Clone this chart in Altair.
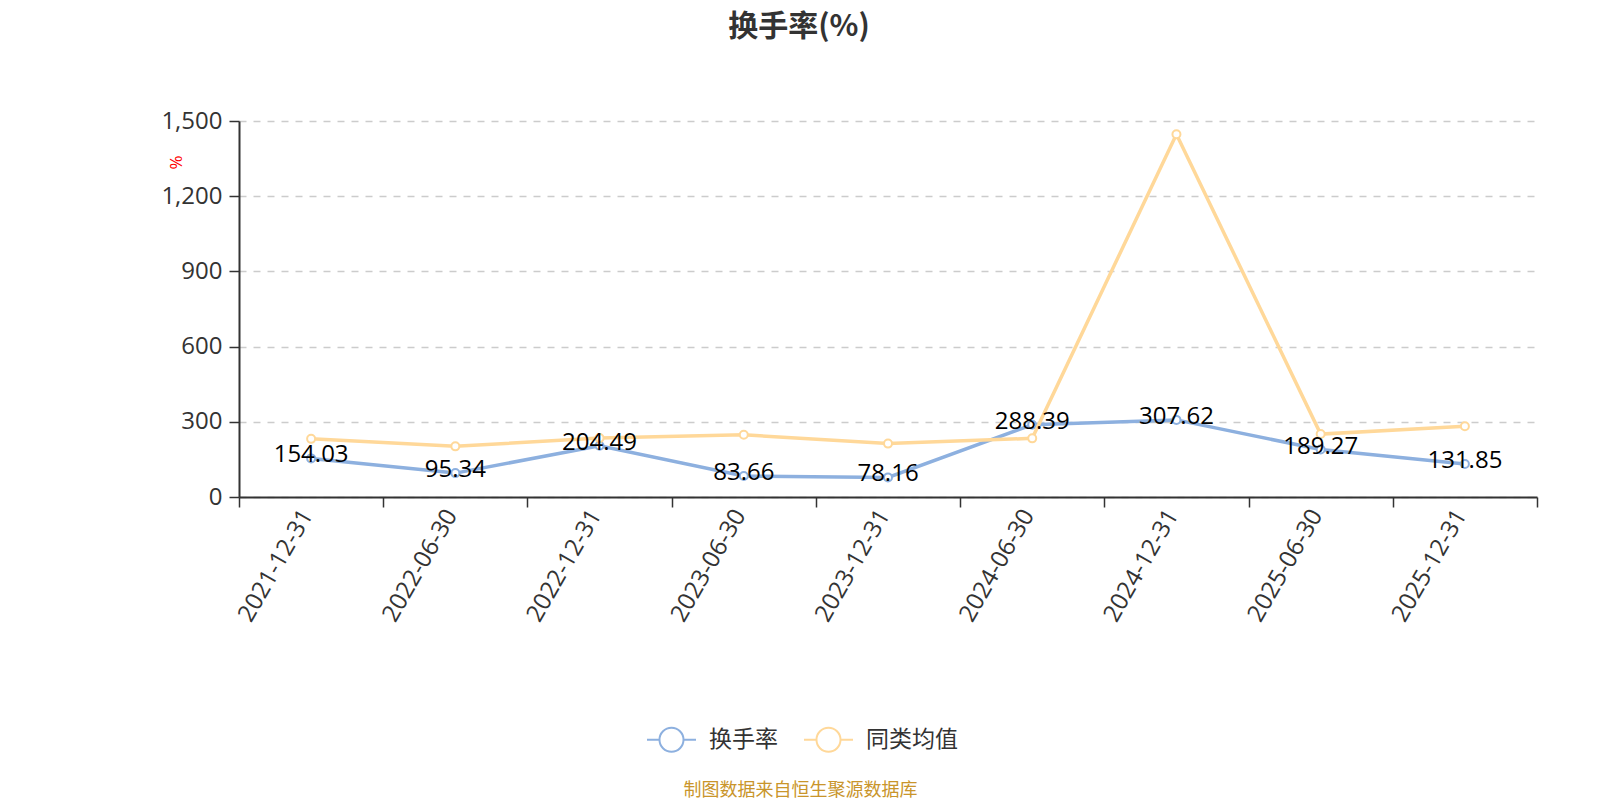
import altair as alt
import pandas as pd

dates = ["2021-12-31", "2022-06-30", "2022-12-31", "2023-06-30", "2023-12-31",
         "2024-06-30", "2024-12-31", "2025-06-30", "2025-12-31"]
turnover = [154.03, 95.34, 204.49, 83.66, 78.16, 288.39, 307.62, 189.27, 131.85]
peer_avg = [232, 202, 235, 248, 213, 234, 1447, 251, 282]
series_names = ["换手率", "同类均值"]
colors = ["#8DB0DF", "#FFD899"]
y_ticks = [0, 300, 600, 900, 1200, 1500]

FONT = "Open Sans, Noto Sans CJK SC"

rows = []
for d, v in zip(dates, turnover):
    rows.append({"date": d, "series": series_names[0], "value": v})
for d, v in zip(dates, peer_avg):
    rows.append({"date": d, "series": series_names[1], "value": v})
df = pd.DataFrame(rows)
lab = pd.DataFrame({"date": dates, "value": turnover,
                    "label": [f"{v:.2f}" for v in turnover]})

sym_path = ("M-1,0L-0.49,0M0.49,0L1,0"
            "M-0.49,0A0.49,0.49,0,1,0,0.49,0A0.49,0.49,0,1,0,-0.49,0")

x_enc = alt.X(
    "date:O", sort=dates,
    scale=alt.Scale(type="band", paddingInner=0, paddingOuter=0),
    axis=alt.Axis(
        title="制图数据来自恒生聚源数据库", titleColor="#C9952B", titleFontSize=18,
        titleFontWeight="normal", titleFont=FONT, titleX=561, titleY=293,
        titleAlign="center", titleBaseline="middle",
        labelAngle=-60, labelFontSize=24, labelColor="#333", labelFont=FONT,
        labelPadding=4, labelOffset=-4, tickBand="extent", tickSize=10, tickColor="#333",
        tickWidth=1.5, domainColor="#333", domainWidth=2, grid=False,
    ),
)
y_enc = alt.Y(
    "value:Q",
    scale=alt.Scale(domain=[0, 1500], nice=False),
    axis=alt.Axis(
        values=y_ticks, format=",d", title="%", titleColor="red", titleFontSize=17,
        titleFontWeight="normal", titleFont=FONT, titleX=-63, titleY=41,
        titleAlign="center", titleBaseline="middle", titleAngle=270,
        labelFontSize=24, labelColor="#333", labelFont=FONT, labelPadding=7,
        tickSize=10, tickColor="#333", tickWidth=1.5, domainColor="#333",
        domainWidth=2, gridColor="#cccccc", gridDash=[7, 7], gridWidth=1.5,
    ),
)
color_enc = alt.Color(
    "series:N",
    scale=alt.Scale(domain=series_names, range=colors),
    legend=alt.Legend(
        orient="none", legendX=407, legendY=593, direction="horizontal", title=None,
        symbolType=sym_path, symbolSize=2401, symbolStrokeWidth=2,
        symbolFillColor="white", labelFontSize=23, labelColor="#333", labelFont=FONT,
        labelOffset=12, columnPadding=22, padding=0,
    ),
)

base = alt.Chart(df).encode(x=x_enc, y=y_enc, color=color_enc)


def series_layer(name):
    return base.transform_filter(alt.datum.series == name).mark_line(
        strokeWidth=3.5,
        point=alt.OverlayMarkDef(filled=False, fill="white", size=64, strokeWidth=2),
    )


labels = alt.Chart(lab).mark_text(
    fontSize=24, color="black", dy=-3, font=FONT, baseline="middle", align="center"
).encode(x=alt.X("date:O", sort=dates), y=alt.Y("value:Q"), text="label:N")

chart = alt.layer(series_layer(series_names[0]), series_layer(series_names[1]), labels).properties(
    width=1298, height=376,
    autosize=alt.AutoSizeParams(type="none"),
    padding={"left": 239, "top": 121, "right": 63, "bottom": 303},
    title=alt.TitleParams(
        "换手率(%)", fontSize=30, fontWeight="bold", color="#333",
        font="Noto Sans CJK SC", anchor="middle", dx=-89, offset=67,
    ),
).configure_view(stroke=None)

chart.save("out.html", embed_options={"renderer": "svg", "actions": False})
